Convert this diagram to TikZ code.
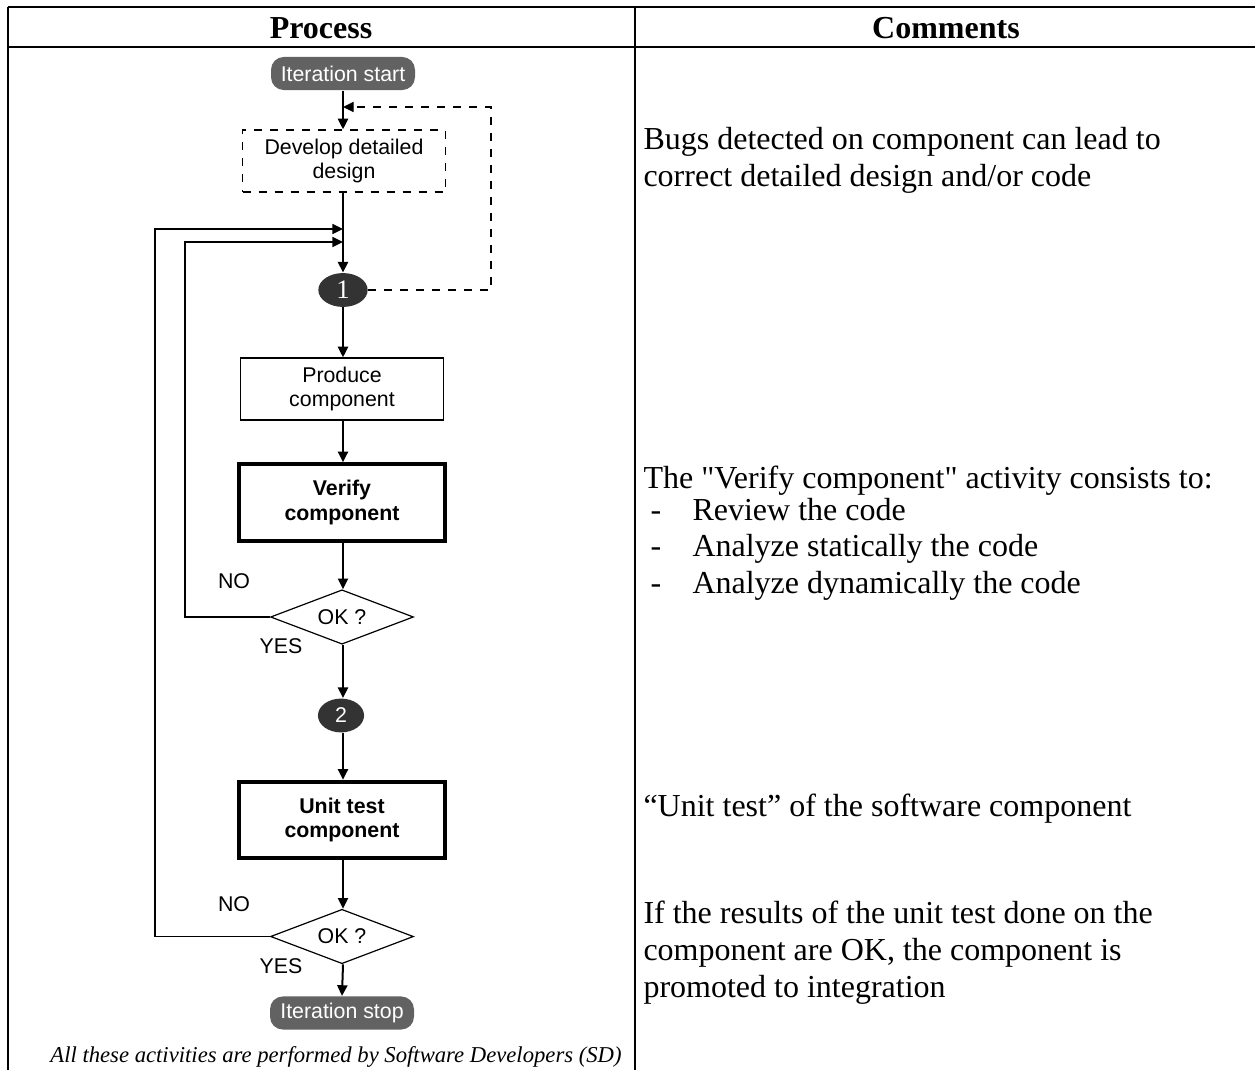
\documentclass[tikz,border=0pt]{standalone}
\usepackage{fontspec}
\setmainfont{Liberation Serif}
\setsansfont{Liberation Sans}
\newfontfamily\rawserif{Liberation Serif}
\usetikzlibrary{arrows.meta,shapes.geometric}
\definecolor{pillgray}{HTML}{626262}
\definecolor{dotgray}{HTML}{333333}
\tikzset{
  ar/.style={-{Triangle[length=4pt,width=3.8pt]}},
  flow/.style={line width=0.75pt},
  loopline/.style={line width=0.5pt},
  tbl/.style={line width=1.1pt},
  pill/.style={rounded corners=4.8pt, fill=pillgray, text=white, font=\sffamily\fontsize{8}{9.6}\selectfont,
    minimum width=54pt, minimum height=12.4pt, inner sep=0pt},
  thinbox/.style={draw, line width=0.45pt, align=center, font=\sffamily\fontsize{8}{9.2}\selectfont,
    minimum width=76pt, minimum height=23.3pt, inner sep=0pt},
  thickbox/.style={draw, line width=1.5pt, align=center, font=\sffamily\bfseries\fontsize{8}{9.2}\selectfont,
    minimum width=77pt, minimum height=28.7pt, inner sep=0pt},
  dotnode/.style={ellipse, fill=dotgray, text=white, inner sep=0pt, minimum width=18.5pt, minimum height=12.7pt},
  okdia/.style={diamond, draw, line width=0.45pt, aspect=2.6, shape aspect=2.6, inner sep=0pt,
    minimum width=53.6pt, minimum height=20.4pt, font=\sffamily\fontsize{8}{9.6}\selectfont},
  lbl/.style={font=\sffamily\fontsize{8}{9.6}\selectfont, inner sep=0pt},
  cmtext/.style={anchor=base west, inner sep=0pt, font=\fontsize{12}{13.8}\selectfont},
  hdr/.style={font=\bfseries\fontsize{12}{13.8}\selectfont, inner sep=0pt}
}
\begin{document}
\begin{tikzpicture}[x=0.375pt,y=-0.375pt]
\useasboundingbox (0,0) rectangle (1255,1070);
% table
\draw[tbl] (8,7) -- (1255,7);
\draw[tbl] (8,47) -- (1255,47);
\draw[tbl] (8,7) -- (8,1070);
\draw[tbl] (635,7) -- (635,1070);
\node[hdr] (hproc) at (321,28) {Process};
\node[hdr] (hcom) at (946,28) {Comments};

% flowchart nodes
\node[pill] (start) at (343,73.5) {Iteration start};
\node[thinbox, dashed] (design) at (344,161) {Develop detailed\\design};
\node[dotnode] (c1) at (343,290) {\fontsize{10}{12}\selectfont 1};
\node[thinbox] (produce) at (342,389) {Produce\\component};
\node[thickbox] (verify) at (342,502.5) {Verify\\component};
\node[okdia] (ok1) at (342,617) {OK ?};
\node[dotnode, minimum width=17.3pt] (c2) at (341,715.5) {\sffamily\fontsize{8}{9.6}\selectfont 2};
\node[thickbox] (unit) at (342,820) {Unit test\\component};
\node[okdia] (ok2) at (342,936.5) {OK ?};
\node[pill] (stop) at (342,1013) {Iteration stop};

\node[lbl] (no1) at (234,581) {NO};
\node[lbl] (yes1) at (281,646) {YES};
\node[lbl] (no2) at (234,904) {NO};
\node[lbl] (yes2) at (281,966) {YES};

\coordinate (jd) at (343,107);
\coordinate (j1) at (343,229);
\coordinate (j2) at (343,242);
\coordinate (l1) at (155,229);
\coordinate (l2) at (185,242);
\coordinate (dr) at (491,290);

% main flow
\draw[flow,ar] (start.south -| jd) -- (design.north -| jd);
\draw[flow,ar] (design.south -| jd) -- (c1.north);
\draw[flow,ar] (c1.south) -- (produce.north -| c1);
\draw[flow,ar] (produce.south -| c1) -- (verify.north -| c1);
\draw[flow,ar] (verify.south -| c1) -- (ok1.north -| c1);
\draw[flow,ar] (ok1.south -| c1) -- (c2.north -| c1);
\draw[flow,ar] (c2.south -| c1) -- (unit.north -| c1);
\draw[flow,ar] (unit.south -| c1) -- (ok2.north -| c1);
\draw[flow,ar] (ok2.south -| c1) -- (stop.north);

% loops
\draw[loopline,ar] (ok1.west) -| (l2) -- (j2);
\draw[loopline,ar] (ok2.west) -| (l1) -- (j1);
\draw[loopline,dashed,ar] (c1.east) -- (dr) |- (jd);

\node[font=\itshape\fontsize{8.5}{10}\selectfont, inner sep=0pt] (foot) at (336,1057) {All these activities are performed by Software Developers (SD)};

% comments
\node[cmtext] (t1) at (643,150) {Bugs detected on component can lead to};
\node[cmtext] (t2) at (643,187) {correct detailed design and/or code};
\node[cmtext, font=\rawserif\fontsize{12}{13.8}\selectfont] (t3) at (643,489) {The "Verify component" activity consists to:};
\node[cmtext] (d1) at (650,520) {-};
\node[cmtext] (t4) at (692,520) {Review the code};
\node[cmtext] (d2) at (650,556) {-};
\node[cmtext] (t5) at (692,556) {Analyze statically the code};
\node[cmtext] (d3) at (650,593) {-};
\node[cmtext] (t6) at (692,593) {Analyze dynamically the code};
\node[cmtext] (t7) at (643,816) {“Unit test” of the software component};
\node[cmtext] (t8) at (643,923) {If the results of the unit test done on the};
\node[cmtext] (t9) at (643,960) {component are OK, the component is};
\node[cmtext] (t10) at (643,997) {promoted to integration};
\end{tikzpicture}
\end{document}
